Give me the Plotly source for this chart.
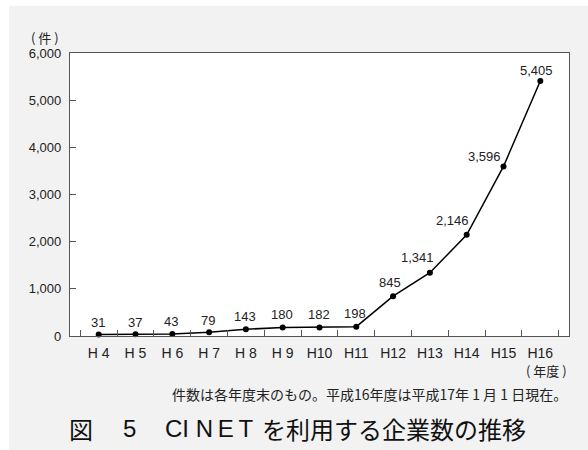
import plotly.graph_objects as go

categories = ["H 4", "H 5", "H 6", "H 7", "H 8", "H 9", "H10", "H11", "H12", "H13", "H14", "H15", "H16"]
values = [31, 37, 43, 79, 143, 180, 182, 198, 845, 1341, 2146, 3596, 5405]
y_ticks = [0, 1000, 2000, 3000, 4000, 5000, 6000]

# label placement offsets (pixels, style only)
label_dx = [-1, -1, -1, -1, -1, -1, -1, -1, -3, -12, -14, -19, -4]
label_dy = [12, 12, 12, 12, 13, 13, 13, 13, 14, 15, 14, 10, 11]

FONT = "Liberation Sans, Arial, Noto Sans CJK JP, sans-serif"
JFONT = "Noto Sans CJK JP, Liberation Sans, sans-serif"

W, H = 588, 450
L, R, T, B = 70, 19, 53, 114
pw, ph = W - L - R, H - T - B

def px(x):
    return (x - L) / pw

def py(y):
    return (H - B - y) / ph

fig = go.Figure()
fig.add_trace(go.Scatter(
    x=categories, y=values, mode="lines+markers",
    line=dict(color="black", width=1.5),
    marker=dict(color="black", size=6),
    cliponaxis=False, showlegend=False,
))

def ann(text, x, y, size, xanchor="left", font=JFONT, color="#222"):
    return dict(text=text, xref="paper", yref="paper", x=px(x), y=py(y),
                xanchor=xanchor, yanchor="middle", showarrow=False,
                font=dict(family=font, size=size, color=color))

annotations = [
    dict(text=f"{v:,}", x=c, y=v, xref="x", yref="y", xanchor="center", yanchor="middle",
         xshift=dx, yshift=dy, showarrow=False,
         font=dict(family=FONT, size=13, color="#222"))
    for c, v, dx, dy in zip(categories, values, label_dx, label_dy)
]
annotations += [
    ann("( 件 )", 45, 37, 13, xanchor="center"),
    ann("( 年度 )", 546, 370, 13, xanchor="center"),
    ann("件数は各年度末のもの。平成16年度は平成17年 1 月 1 日現在。", 569, 394, 14, xanchor="right"),
    ann("図", 67, 428, 24, color="#111"),
    ann("5", 121, 428, 24, font=FONT, color="#111"),
    ann("CI\u00a0N\u2009E\u2009T", 163, 428, 24, font=FONT, color="#111"),
    ann("を利用する企業数の推移", 260, 428, 24, color="#111"),
]

fig.update_layout(
    width=W, height=H,
    margin=dict(l=L, r=R, t=T, b=B),
    paper_bgcolor="#f2f2f2", plot_bgcolor="white",
    font=dict(family=FONT, size=13, color="#222"),
    xaxis=dict(
        type="category", tickson="boundaries", ticks="inside", ticklen=6,
        tickcolor="#555", showline=True, linecolor="#555", linewidth=1.2,
        mirror=True, showgrid=False, zeroline=False, ticklabelstandoff=4,
        tickfont=dict(family=FONT, size=14, color="#222"),
    ),
    yaxis=dict(
        range=[0, 6000], tickvals=y_ticks, tickformat=",", ticks="inside",
        ticklen=6, tickcolor="#555", showline=True, linecolor="#555",
        linewidth=1.2, mirror=True, showgrid=False, zeroline=False,
        ticklabelstandoff=5,
        tickfont=dict(family=FONT, size=13, color="#222"),
    ),
    shapes=[
        dict(type="rect", xref="paper", yref="paper", x0=px(0), x1=px(W), y0=py(0), y1=py(6),
             fillcolor="white", line=dict(width=0), layer="below"),
        dict(type="rect", xref="paper", yref="paper", x0=px(0), x1=px(9), y0=py(0), y1=py(H),
             fillcolor="white", line=dict(width=0), layer="below"),
    ],
    annotations=annotations,
)

fig.write_html("out.html")
